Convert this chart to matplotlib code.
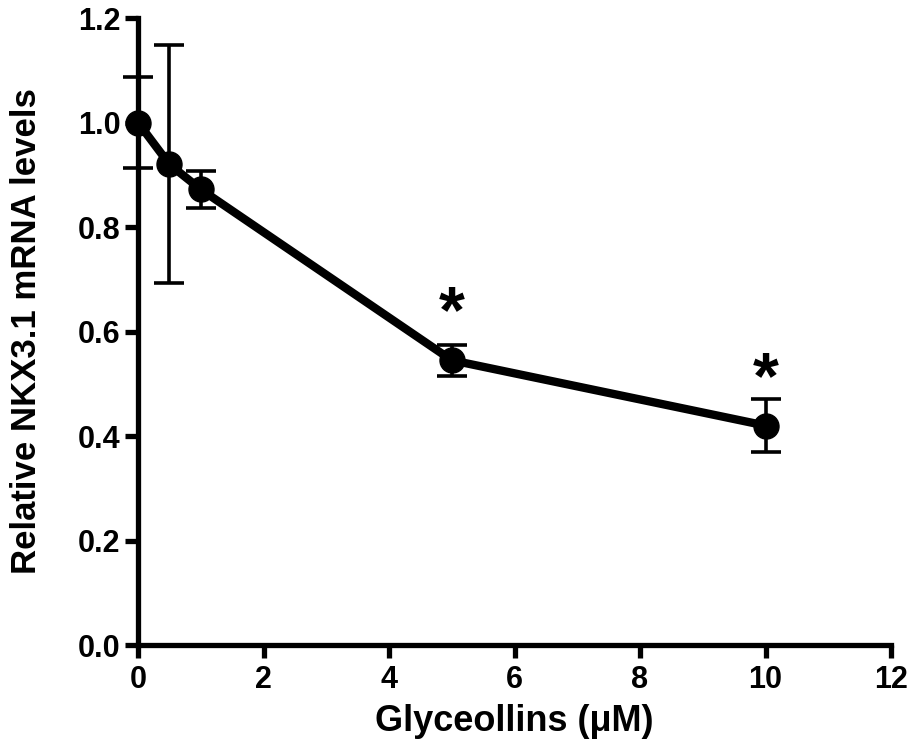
import matplotlib
matplotlib.use("Agg")
import matplotlib.pyplot as plt

# Data
conc = [0, 0.5, 1, 5, 10]
mrna = [1.0, 0.92, 0.872, 0.545, 0.42]
err = [0.087, 0.228, 0.036, 0.03, 0.051]
star_x = [5, 10]
star_y = [0.658, 0.532]   # centre of the significance asterisks

xticks = [0, 2, 4, 6, 8, 10, 12]
yticks = [0.0, 0.2, 0.4, 0.6, 0.8, 1.0, 1.2]

plt.rcParams['font.family'] = ['Liberation Sans', 'DejaVu Sans']
plt.rcParams['font.weight'] = 'bold'

fig = plt.figure(figsize=(9.17, 7.44), dpi=100)
ax = fig.add_axes([0.1505, 0.133, 0.8212, 0.8428])

ax.errorbar(conc, mrna, yerr=err, color='black', lw=6, marker='o',
            markersize=18, elinewidth=2.6, capsize=10.5, capthick=2.6,
            zorder=3, clip_on=False)

# asterisks: baseline shifted down so the glyph centre sits on star_y
star_size = 48
for x, y in zip(star_x, star_y):
    ax.annotate('*', (x, y), xytext=(0, -0.47 * star_size),
                textcoords='offset points', ha='center', va='baseline',
                fontsize=star_size, fontweight='bold')

ax.set_xlim(0, 12)
ax.set_ylim(0, 1.2)
ax.set_xticks(xticks)
ax.set_yticks(yticks)
ax.set_xticklabels([str(t) for t in xticks])
ax.set_yticklabels([f"{t:.1f}" for t in yticks])

for s in ['top', 'right']:
    ax.spines[s].set_visible(False)
for s in ['left', 'bottom']:
    ax.spines[s].set_linewidth(3.8)
ax.tick_params(axis='both', direction='out', length=9.5, width=3.8,
               labelsize=22, pad=3)
ax.tick_params(axis='x', pad=5)

ax.set_xlabel('Glyceollins (μM)', fontsize=26, fontweight='bold', labelpad=6)
ax.set_ylabel('Relative NKX3.1 mRNA levels', fontsize=25, fontweight='bold',
              labelpad=25)

fig.savefig('out.png', dpi=100)
